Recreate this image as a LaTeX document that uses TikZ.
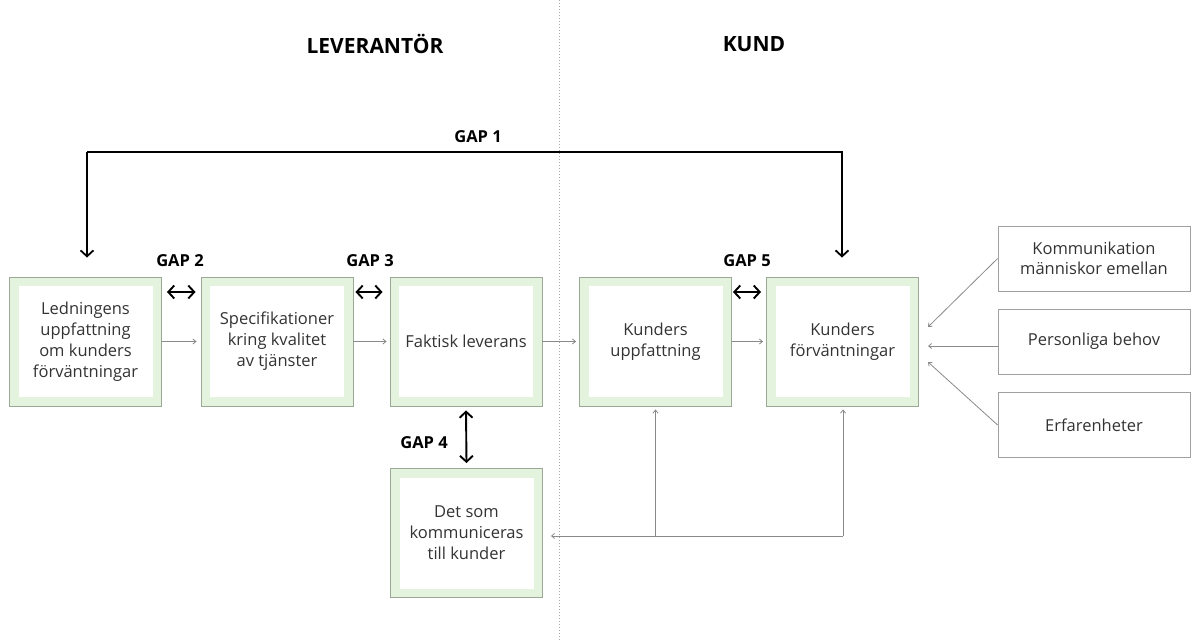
\documentclass[tikz,border=0pt]{standalone}
\usepackage{fontspec}
\setmainfont{Open Sans}
\usetikzlibrary{arrows.meta,positioning}
\definecolor{band}{HTML}{E3F3DD}
\definecolor{rim}{HTML}{9AA895}
\definecolor{thin}{HTML}{8A8A8A}
\definecolor{greyrim}{HTML}{A0A0A0}
\definecolor{divider}{HTML}{A8A8A8}
\tikzset{
  gbox/.style={draw=rim, line width=0.9pt, fill=band, minimum width=152pt, minimum height=129pt,
    inner sep=0pt, align=center, font=\fontsize{16.5}{21}\selectfont, text=black!80,
    path picture={\fill[white] ([xshift=9pt,yshift=-9pt]path picture bounding box.north west)
      rectangle ([xshift=-9pt,yshift=9pt]path picture bounding box.south east);}},
  wbox/.style={draw=greyrim, line width=0.8pt, fill=white, minimum width=192pt, minimum height=65pt,
    inner sep=0pt, align=center, font=\fontsize{16.5}{20}\selectfont, text=black!80},
  flow/.style={draw=thin, line width=0.8pt, -{Straight Barb[length=3pt,width=5pt]}},
  gap/.style={draw=black, line width=1.9pt, {Straight Barb[length=6pt,width=13pt]}-{Straight Barb[length=6pt,width=13pt]}},
  gapone/.style={draw=black, line width=1.8pt, -{Straight Barb[length=6pt,width=13pt]}},
  gaplabel/.style={font=\bfseries\fontsize{16.5}{18}\selectfont, inner sep=0pt},
  head/.style={font=\bfseries\fontsize{21}{24}\selectfont, inner sep=0pt},
}
\begin{document}
\begin{tikzpicture}[x=1pt,y=-1pt]
\useasboundingbox (0,0) rectangle (1192,642);
% side divider
\coordinate (divtop) at (559,0);
\coordinate (divbot) at (559,642);
\draw[divider, line width=0.9pt, dash pattern=on 1pt off 2pt] (divtop) -- (divbot);

% headings
\node[head] (lev) at (375,44) {LEVERANTÖR};
\node[head] (kund) at (754,44) {KUND};

% green boxes
\node[gbox] (a) at (85.5,341.5) {Ledningens\\uppfattning\\om kunders\\förväntningar};
\node[gbox] (b) at (277,341.5) {Specifikationer\\kring kvalitet\\av tjänster};
\node[gbox] (c) at (466,341.5) {Faktisk leverans};
\node[gbox] (d) at (655.5,341.5) {Kunders\\uppfattning};
\node[gbox] (e) at (842.5,341.5) {Kunders\\förväntningar};
\node[gbox] (f) at (466.5,533) {Det som\\kommuniceras\\till kunder};

% influences on expectations
\node[wbox] (k) at (1094,258.5) {Kommunikation\\människor emellan};
\node[wbox] (p) at (1094,341.5) {Personliga behov};
\node[wbox] (x) at (1094,425) {Erfarenheter};

% main flow
\draw[flow] (a.east) -- ([xshift=-4pt]b.west);
\draw[flow] (b.east) -- ([xshift=-3pt]c.west);
\draw[flow] (c.east) -- ([xshift=-3pt]d.west);
\draw[flow] (d.east) -- ([xshift=-3pt]e.west);

\coordinate (ek) at (928,327);
\coordinate (ep) at (928,346);
\coordinate (ex) at (928,362);
\draw[flow] (k.west) -- (ek);
\draw[flow] (p.west |- ep) -- (ep);
\draw[flow] (x.west) -- (ex);

% feedback to communication
\coordinate (fb) at (843,536);
\coordinate (fd) at (655.5,536);
\draw[flow] (fb) -- ([xshift=8pt]f.east |- fb);
\draw[flow] (fd) -- ([yshift=-3pt]d.south);
\draw[flow] (fb) -- ([yshift=-3pt]e.south -| fb);

% gaps
\coordinate (g1l) at (87,152);
\coordinate (g1r) at (842,152);
\draw[gapone] (g1l) -- ([yshift=19pt]a.north -| g1l);
\draw[gapone] (g1l) -- (g1r) -- ([yshift=19pt]e.north -| g1r);
\node[gaplabel] (gap1) at (478,137) {GAP 1};

\draw[gap] ([xshift=5pt,yshift=49.5pt]a.east) -- ([xshift=-5pt,yshift=49.5pt]b.west);
\node[gaplabel] (gap2) at (180,261) {GAP 2};
\draw[gap] ([xshift=2pt,yshift=49.5pt]b.east) -- ([xshift=-7pt,yshift=49.5pt]c.west);
\node[gaplabel] (gap3) at (370,261) {GAP 3};
\draw[gap] ([xshift=1pt,yshift=49.5pt]d.east) -- ([xshift=-5pt,yshift=49.5pt]e.west);
\node[gaplabel] (gap5) at (747,261) {GAP 5};
\draw[gap] ([yshift=-4pt]c.south) -- ([yshift=5pt]f.north);
\node[gaplabel] (gap4) at (424,443) {GAP 4};
\end{tikzpicture}
\end{document}
